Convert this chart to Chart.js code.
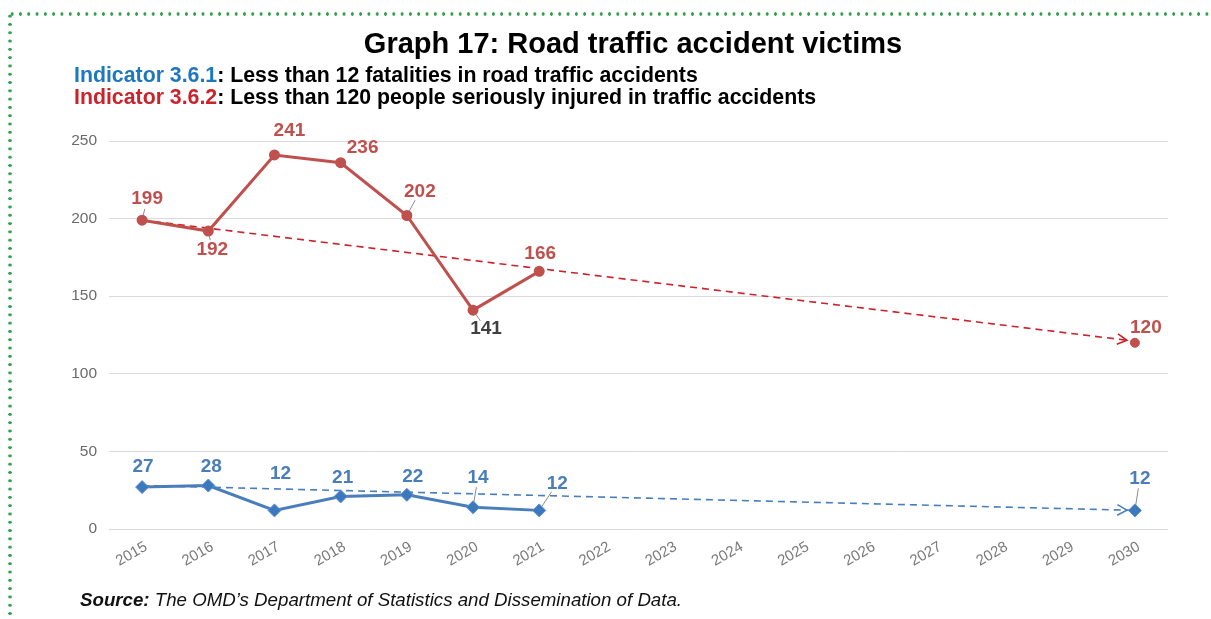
<!DOCTYPE html>
<html>
<head>
<meta charset="utf-8">
<script src="https://cdn.jsdelivr.net/npm/chart.js@4"></script>
<style>
  body { margin: 0; background: #fff; font-family: "Liberation Sans", Arial, sans-serif; }
  #wrap { position: relative; width: 1211px; height: 619px; overflow: hidden; }
  #chart { position: absolute; left: 0; top: 0; }
  .dots-h { position: absolute; left: 8px; top: 12px; width: 1203px; height: 4px;
    background-image: radial-gradient(circle, #34a04f 1.5px, transparent 1.9px);
    background-size: 8.3px 4px; background-repeat: repeat-x; }
  .dots-v { position: absolute; left: 8px; top: 12px; width: 4px; height: 607px;
    background-image: radial-gradient(circle, #34a04f 1.5px, transparent 1.9px);
    background-size: 4px 8.3px; background-repeat: repeat-y; }
  .title { position: absolute; left: 0; width: 1266px; top: 27px; text-align: center;
    font-weight: bold; font-size: 29px; color: #000; }
  .ind { position: absolute; left: 74px; font-weight: bold; font-size: 21.3px; color: #000; white-space: nowrap; }
  .blue { color: #1f77c0; }
  .red { color: #cc2229; }
  .source { position: absolute; left: 80px; top: 589px; font-style: italic; font-size: 18.7px; color: #111; white-space: nowrap; }
</style>
</head>
<body>
<div id="wrap">
  <canvas id="chart" width="1211" height="619"></canvas>
  <div class="dots-h"></div>
  <div class="dots-v"></div>
  <div class="title">Graph 17: Road traffic accident victims</div>
  <div class="ind" style="top:63px"><span class="blue">Indicator 3.6.1</span>: Less than 12 fatalities in road traffic accidents</div>
  <div class="ind" style="top:85px"><span class="red">Indicator 3.6.2</span>: Less than 120 people seriously injured in traffic accidents</div>
  <div class="source"><b>Source:</b> The OMD’s Department of Statistics and Dissemination of Data.</div>
</div>
<script>
const years = ["2015", "2016", "2017", "2018", "2019", "2020", "2021", "2022",
  "2023", "2024", "2025", "2026", "2027", "2028", "2029", "2030"];
const injured = [199, 192, 241, 236, 202, 141, 166, null, null, null, null, null, null, null, null, null];
const injuredTarget = [null, null, null, null, null, null, null, null, null, null, null, null, null, null, null, 120];
const injuredTrend = [199, null, null, null, null, null, null, null, null, null, null, null, null, null, null, 121];
const fatalities = [27, 28, 12, 21, 22, 14, 12, null, null, null, null, null, null, null, null, null];
const fatalitiesTarget = [null, null, null, null, null, null, null, null, null, null, null, null, null, null, null, 12];
const fatalitiesTrend = [28, null, null, null, null, null, null, null, null, null, null, null, null, null, null, 12];
const yTicks = [0, 50, 100, 150, 200, 250];

const RED = "#c0504d";
const RED_DASH = "#cc2229";
const BLUE = "#4a7ebb";
const BLUE_MARK = "#3b78bd";

// label placement relative to each point (px)
const injuredOffsets = [[5, -21], [4, 19], [15, -24], [22, -15], [13, -24], [13, 19], [1, -18]];
const injuredLabelColors = [RED, RED, RED, RED, RED, "#404040", RED];
const injuredLeaders = [0, 1, 4, 5];
const fatalOffsets = [[1, -20], [3, -19], [6, -37], [2, -19], [6, -18], [5, -30], [18, -27]];
const fatalLeaders = [5, 6];

// value labels + leader lines
const labelPlugin = {
  id: "valueLabels",
  afterDatasetsDraw(chart) {
    const ctx = chart.ctx;
    ctx.save();
    ctx.font = "bold 19px 'Liberation Sans', Arial, sans-serif";
    ctx.textAlign = "center";
    ctx.textBaseline = "middle";
    chart.data.datasets.forEach((ds, di) => {
      if (!ds.labelOffsets) return;
      const meta = chart.getDatasetMeta(di);
      meta.data.forEach((pt, i) => {
        const v = ds.data[i];
        if (v === null || v === undefined) return;
        const k = ds.labelIndexStart ? i - ds.labelIndexStart : i;
        const off = ds.labelOffsets[k];
        if (!off) return;
        const lx = pt.x + off[0], ly = pt.y + off[1];
        if (ds.leaders && ds.leaders.includes(k)) {
          const dx = off[0], dy = off[1];
          const d = Math.hypot(dx, dy);
          ctx.strokeStyle = "#8c8c8c";
          ctx.lineWidth = 1;
          ctx.beginPath();
          ctx.moveTo(pt.x + dx / d * 5, pt.y + dy / d * 5);
          ctx.lineTo(lx - dx / d * 10, ly - dy / d * 10);
          ctx.stroke();
        }
        ctx.fillStyle = ds.labelColors ? ds.labelColors[k] : ds.labelColor;
        ctx.fillText(String(v), lx, ly);
      });
    });
    ctx.restore();
  }
};

// open arrowheads at the end of the dashed trend lines
const arrowPlugin = {
  id: "trendArrows",
  afterDatasetsDraw(chart) {
    const ctx = chart.ctx;
    const xs = chart.scales.x, ys = chart.scales.y;
    chart.data.datasets.forEach((ds) => {
      if (!ds.arrow) return;
      const idx = ds.data.map((v, i) => (v === null ? -1 : i)).filter((i) => i >= 0);
      const a = idx[0], b = idx[idx.length - 1];
      const x0 = xs.getPixelForValue(a), y0 = ys.getPixelForValue(ds.data[a]);
      const x1 = xs.getPixelForValue(b), y1 = ys.getPixelForValue(ds.data[b]);
      const ang = Math.atan2(y1 - y0, x1 - x0);
      const tx = x1 - Math.cos(ang) * 8, ty = y1 - Math.sin(ang) * 8;
      ctx.save();
      ctx.strokeStyle = ds.borderColor;
      ctx.lineWidth = 1.6;
      ctx.beginPath();
      ctx.moveTo(tx - Math.cos(ang - 0.5) * 11, ty - Math.sin(ang - 0.5) * 11);
      ctx.lineTo(tx, ty);
      ctx.lineTo(tx - Math.cos(ang + 0.5) * 11, ty - Math.sin(ang + 0.5) * 11);
      ctx.stroke();
      ctx.restore();
    });
  }
};

const ctx = document.getElementById("chart").getContext("2d");
new Chart(ctx, {
  type: "line",
  data: {
    labels: years,
    datasets: [
      {
        data: injuredTrend, borderColor: RED_DASH, borderWidth: 1.6, borderDash: [7, 5],
        pointRadius: 0, spanGaps: true, order: 5, arrow: true
      },
      {
        data: fatalitiesTrend, borderColor: BLUE, borderWidth: 1.6, borderDash: [7, 5],
        pointRadius: 0, spanGaps: true, order: 5, arrow: true
      },
      {
        data: injured, borderColor: RED, backgroundColor: RED, borderWidth: 3,
        pointRadius: 4, pointStyle: "circle", order: 2,
        labelOffsets: injuredOffsets, labelColors: injuredLabelColors, leaders: injuredLeaders
      },
      {
        data: fatalities, borderColor: BLUE, backgroundColor: BLUE_MARK, borderWidth: 3,
        pointRadius: 6.5, pointStyle: "rectRot", pointBorderColor: "#5b8fd0", pointBorderWidth: 1, order: 2,
        labelOffsets: fatalOffsets, labelColor: BLUE, leaders: fatalLeaders
      },
      {
        data: injuredTarget, borderColor: RED, backgroundColor: RED, showLine: false,
        pointRadius: 4.5, order: 1,
        labelOffsets: [[11, -15]], labelIndexStart: 15, labelColor: RED
      },
      {
        data: fatalitiesTarget, borderColor: "#5b8fd0", backgroundColor: BLUE_MARK, showLine: false,
        pointRadius: 6.5, pointStyle: "rectRot", pointBorderWidth: 1, order: 1,
        labelOffsets: [[5, -32]], labelIndexStart: 15, labelColor: BLUE, leaders: [0]
      }
    ]
  },
  options: {
    responsive: false,
    animation: false,
    layout: { padding: { top: 141, left: 0, right: 43, bottom: 40 } },
    plugins: { legend: { display: false }, tooltip: { enabled: false } },
    scales: {
      x: {
        offset: true,
        grid: { display: false },
        border: { display: false },
        ticks: {
          color: "#7a7a7a", font: { size: 15, family: "'Liberation Sans', Arial, sans-serif" },
          minRotation: 30, maxRotation: 30, padding: 1, labelOffset: 4
        },
        afterFit(scale) { scale.height = 50; }
      },
      y: {
        min: 0, max: 250,
        afterBuildTicks(scale) { scale.ticks = yTicks.map((v) => ({ value: v })); },
        grid: { color: "#d9d9d9", lineWidth: 1, drawTicks: false },
        border: { display: false },
        ticks: {
          color: "#6b6b6b", padding: 12, font: { size: 15.5, family: "'Liberation Sans', Arial, sans-serif" }
        },
        afterFit(scale) { scale.width = 109; }
      }
    }
  },
  plugins: [labelPlugin, arrowPlugin]
});
</script>
</body>
</html>
